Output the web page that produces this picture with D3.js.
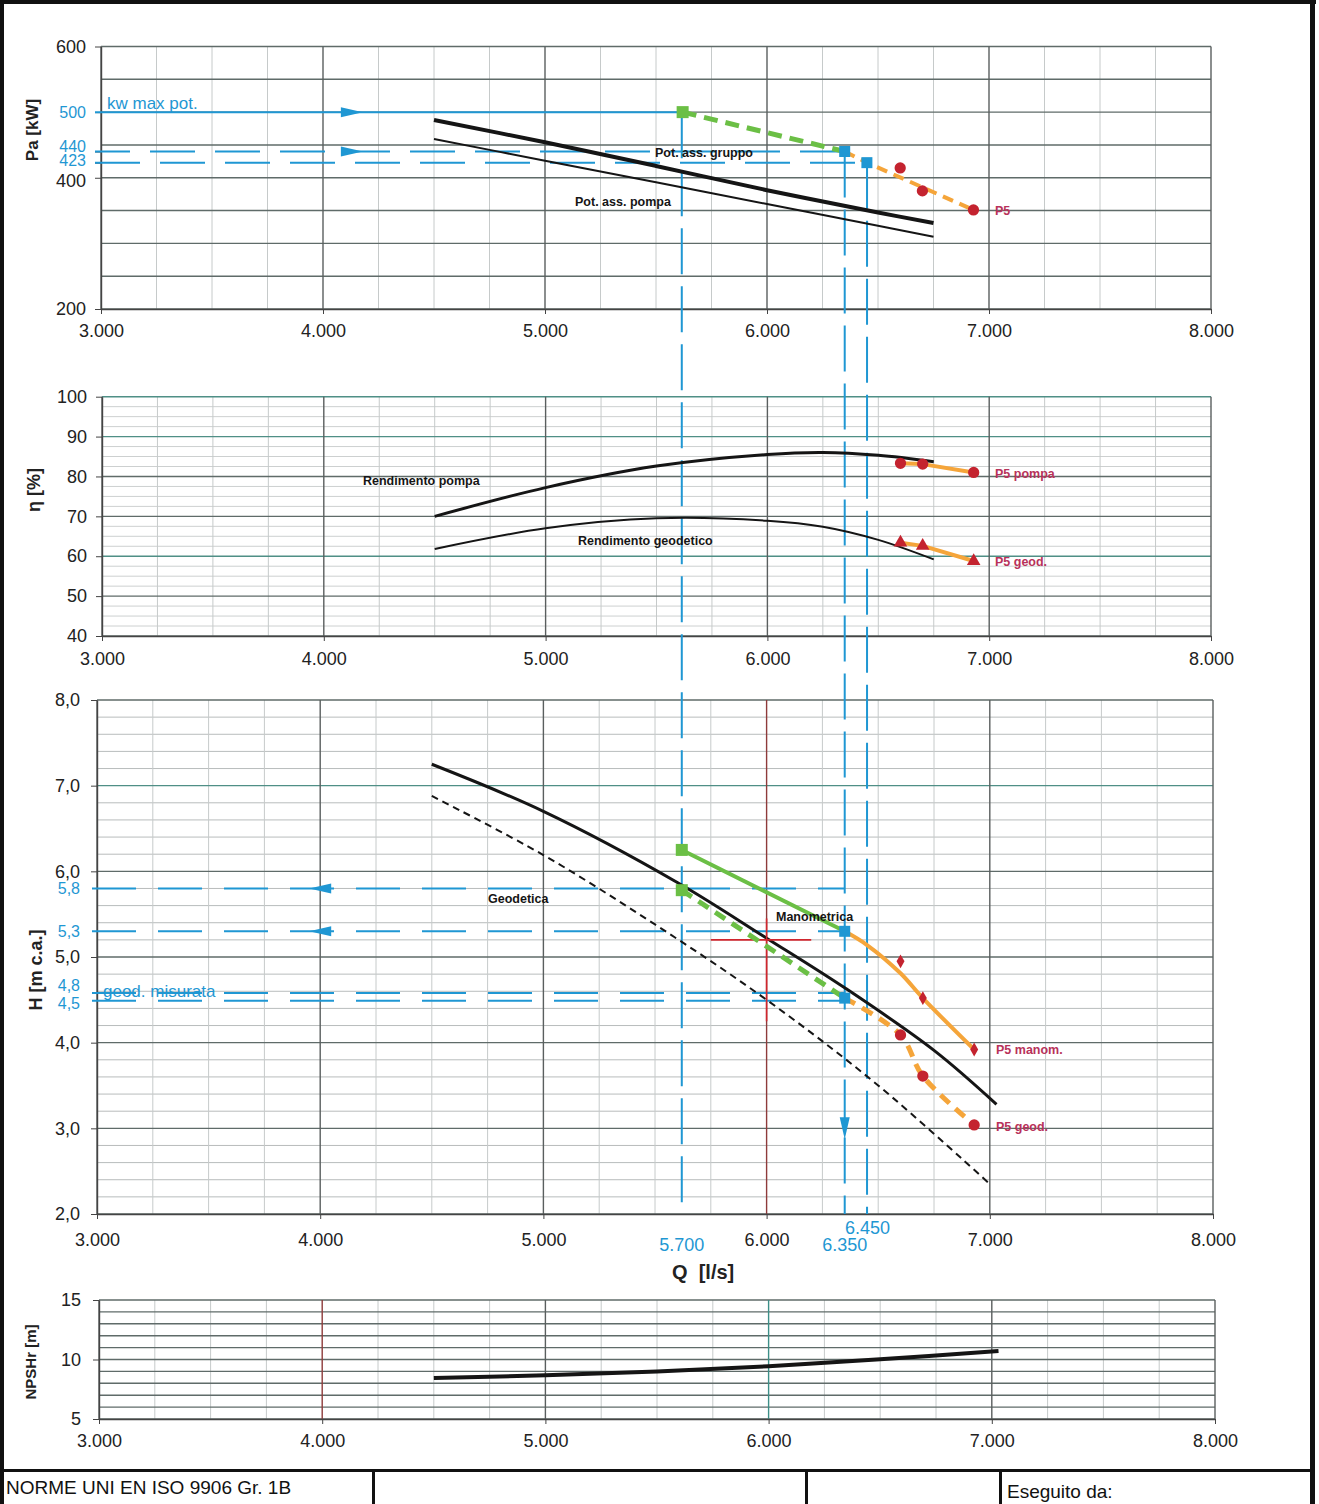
<!DOCTYPE html>
<html><head><meta charset="utf-8">
<script src="https://cdn.jsdelivr.net/npm/d3@7"></script>
<style>
body{margin:0;background:#fff}
text{font-family:Arial,"Liberation Sans",sans-serif}
</style>
</head><body>
<svg id="c" width="1319" height="1504"></svg>
<script>
// ---------- DATA ----------
const qTicks=[3000,4000,5000,6000,7000,8000];
const qTickLabels=["3.000","4.000","5.000","6.000","7.000","8.000"];
const opQ=[5620,6350,6450];
const opQLabels=["5.700","6.350","6.450"];
// Panel 1 – absorbed power
const paTicks=[600,400,200];
const paRefTicks=[500,440,423];
const potQ=[4500,5000,5500,6000,6500,6750];
const potGruppo=[488,454,418,381,347,331];
const potPompa=[459,426,393,360,327,310];
const opPa=[500,440,423];
const p5Q=[6600,6700,6930];
const p5Pa=[415,380,351];
// Panel 2 – efficiency
const etaTicks=[100,90,80,70,60,50,40];
const rendQ=[4500,5000,5500,6000,6250,6500,6750];
const rendPompa=[70,77.2,82.6,85.5,86,85.3,83.7];
const rendGeod=[61.8,67,69.5,68.9,67.4,64.1,59.2];
const p5EtaPompa=[83.3,83.1,81];
const p5EtaGeod=[63.4,62.6,58.8];
// Panel 3 – head
const hTicks=[8,7,6,5,4,3,2];
const hTickLabels=["8,0","7,0","6,0","5,0","4,0","3,0","2,0"];
const hRefValues=[5.8,5.3,4.58,4.49];
const hRefLabelPos=[5.8,5.3,4.67,4.46];
const hRefLabels=["5,8","5,3","4,8","4,5"];
const manQ=[4500,5000,5600,6000,6350,6750,7030];
const manH=[7.25,6.70,5.87,5.22,4.64,3.91,3.28];
const geoQ=[4500,5000,5500,6000,6500,7000];
const geoH=[6.88,6.19,5.38,4.50,3.50,2.35];
const opHMan=[6.25,5.30];
const opHGeod=[5.78,4.52];
const orangeManQ=[6350,6450,6600,6700,6930];
const orangeManH=[5.30,5.14,4.81,4.52,3.92];
const p5HMan=[4.95,4.52,3.92];
const p5HGeod=[4.09,3.61,3.04];
const crossQ=[5750,6000,6200];
const crossH=[4.25,5.2,5.45];
// Panel 4 – NPSHr
const npshTicks=[15,10,5];
const npshQ=[4500,5000,5500,6000,6500,7030];
const npsh=[8.45,8.68,9.0,9.44,10.02,10.72];

// ---------- STYLE ----------
const BLUE="#1f97d3", GREEN="#6bbf45", ORANGE="#f5a53a", RED="#c4232f", LBL="#b8325a", INK="#151515";
const svg=d3.select("#c");

function makePanel(cfg){
  const x=d3.scaleLinear().domain([3000,8000]).range(cfg.xr);
  const y=d3.scaleLinear().domain(cfg.yd).range(cfg.yr);
  const g=svg.append("g");
  const vq=d3.range(0,21).map(i=>3000+i*250);
  const n=Math.round((cfg.yd[1]-cfg.yd[0])/cfg.minor);
  const hv=d3.range(0,n+1).map(i=>cfg.yd[0]+i*cfg.minor);
  const isMaj=v=>Math.abs(v/cfg.major-Math.round(v/cfg.major))<1e-6;
  g.selectAll(".hmin").data(hv.filter(v=>!isMaj(v))).join("line")
    .attr("x1",x(3000)).attr("x2",x(8000)).attr("y1",d=>y(d)).attr("y2",d=>y(d))
    .attr("stroke",cfg.hMinorColor).attr("stroke-width",1);
  g.selectAll(".vmin").data(vq.filter(q=>q%1000!==0)).join("line")
    .attr("x1",d=>x(d)).attr("x2",d=>x(d)).attr("y1",y.range()[0]).attr("y2",y.range()[1])
    .attr("stroke","#c6caca").attr("stroke-width",1);
  g.selectAll(".hmaj").data(hv.filter(isMaj)).join("line")
    .attr("x1",x(3000)).attr("x2",x(8000)).attr("y1",d=>y(d)).attr("y2",d=>y(d))
    .attr("stroke",d=>(cfg.hColors&&cfg.hColors[d])||"#5f6b69").attr("stroke-width",1.4);
  g.selectAll(".vmaj").data(vq.filter(q=>q%1000===0)).join("line")
    .attr("x1",d=>x(d)).attr("x2",d=>x(d)).attr("y1",y.range()[0]).attr("y2",y.range()[1])
    .attr("stroke",d=>(cfg.vColors&&cfg.vColors[d])||"#5a5f5f").attr("stroke-width",1.4);
  return {x,y,g};
}
function styleAxis(sel,color,size){
  sel.selectAll("text").attr("font-size",size||18).attr("fill",color||"#222");
  sel.selectAll("line").attr("stroke","#444");
  sel.select(".domain").attr("stroke","#444").attr("stroke-width",1.4);
}
function yAxis(p,vals,fmt,color,pad,size){
  const a=p.g.append("g").attr("transform",`translate(${p.x.range()[0]},0)`)
    .call(d3.axisLeft(p.y).tickValues(vals).tickFormat(fmt).tickSize(6).tickSizeOuter(0).tickPadding(pad||9));
  styleAxis(a,color,size);
  if(color) a.select(".domain").remove();
  return a;
}
function xAxis(p,pad){
  const a=p.g.append("g").attr("transform",`translate(0,${p.y.range()[0]})`)
    .call(d3.axisBottom(p.x).tickValues(qTicks).tickFormat((d,i)=>qTickLabels[i]).tickSize(5).tickSizeOuter(0).tickPadding(pad));
  styleAxis(a);
  return a;
}
function yTitle(txt,x,y,size){
  svg.append("text").attr("transform",`translate(${x},${y}) rotate(-90)`).attr("text-anchor","middle")
    .attr("font-weight","bold").attr("font-size",size||17).attr("fill","#222").text(txt);
}
function lbl(txt,x,y,color,size,weight){
  return svg.append("text").attr("x",x).attr("y",y).attr("fill",color||INK).attr("font-size",size||12.5)
    .attr("font-weight",weight||"bold").text(txt);
}
function line(p,qs,vs,opt){
  const gen=d3.line().x(d=>p.x(d[0])).y(d=>p.y(d[1])).curve(opt.curve||d3.curveCatmullRom.alpha(0.5));
  return svg.append("path").attr("d",gen(qs.map((q,i)=>[q,vs[i]]))).attr("fill","none")
    .attr("stroke",opt.color).attr("stroke-width",opt.w).attr("stroke-dasharray",opt.dash||null)
    .attr("stroke-linecap",opt.cap||"butt").attr("stroke-linejoin","round");
}
function squares(p,qs,vs,color,s){
  svg.append("g").selectAll("rect").data(qs.map((q,i)=>[q,vs[i]])).join("rect")
    .attr("x",d=>p.x(d[0])-s/2).attr("y",d=>p.y(d[1])-s/2).attr("width",s).attr("height",s).attr("fill",color);
}
function symbols(p,qs,vs,type,size,color){
  svg.append("g").selectAll("path").data(qs.map((q,i)=>[q,vs[i]])).join("path")
    .attr("transform",d=>`translate(${p.x(d[0])},${p.y(d[1])})`)
    .attr("d",d3.symbol().type(type).size(size)).attr("fill",color);
}
function arrow(x,y,dir,color){
  const paths={right:"M-11,-5 L11,0 L-11,5Z",left:"M11,-5 L-11,0 L11,5Z",down:"M-5,-11 L0,11 L5,-11Z"};
  svg.append("path").attr("transform",`translate(${x},${y})`).attr("d",paths[dir]).attr("fill",color);
}

// ---------- PANELS ----------
const P1=makePanel({xr:[101,1211],yd:[200,600],yr:[309,46.5],minor:50,major:50,hMinorColor:"#6a7472",hColors:{}});
const P2=makePanel({xr:[102,1211],yd:[40,100],yr:[636,396.7],minor:2.5,major:10,hMinorColor:"#cdd0d0",
  hColors:{90:"#4f8f86",60:"#4f8f86",100:"#4f8f86"}});
const P3=makePanel({xr:[97,1213],yd:[2,8],yr:[1214,700],minor:0.2,major:1,hMinorColor:"#b8bcbc",
  hColors:{7:"#4f8f86"},vColors:{6000:"#8e3b3b"}});
const P4=makePanel({xr:[99,1215],yd:[5,15],yr:[1419,1300],minor:1,major:1,hMinorColor:"#555",
  hColors:{}, vColors:{4000:"#8e3b3b",6000:"#3d8f88"}});

// axes
const blackTop=yAxis(P1,paTicks,d=>d);
blackTop.selectAll(".tick text").attr("dy",d=>d===400?"0.5em":"0.32em");
const blueTop=yAxis(P1,paRefTicks,d=>d,BLUE,9,16);
blueTop.selectAll(".tick text").attr("dy",(d)=>d===440?"0.0em":(d===423?"0.2em":"0.32em"));
xAxis(P1,10);
yTitle("Pa [kW]",38,130,17);

yAxis(P2,etaTicks,d=>d);
xAxis(P2,11);
yTitle("η [%]",40,490,18);

yAxis(P3,hTicks,(d,i)=>hTickLabels[i],null,11);
svg.append("g").selectAll("text").data(hRefLabelPos).join("text")
  .attr("x",P3.x.range()[0]-17).attr("y",d=>P3.y(d)).attr("dy","0.35em").attr("text-anchor","end")
  .attr("font-size",16).attr("fill",BLUE).text((d,i)=>hRefLabels[i]);
xAxis(P3,14);
yTitle("H [m c.a.]",42,970,18);
svg.append("g").selectAll("text").data(opQ).join("text")
  .attr("x",d=>P3.x(d)).attr("y",(d,i)=>i===2?1234:1251).attr("text-anchor",(d,i)=>i===2?"start":"middle")
  .attr("dx",(d,i)=>i===2?-22:0)
  .attr("font-size",18).attr("fill",BLUE).text((d,i)=>opQLabels[i]);
svg.append("text").attr("x",672).attr("y",1279).attr("font-size",20).attr("font-weight","bold").attr("fill","#222")
  .attr("xml:space","preserve").text("Q  [l/s]");

yAxis(P4,npshTicks,d=>d,null,12);
xAxis(P4,10);
yTitle("NPSHr [m]",36,1362,15);

// ---------- BLUE REFERENCE LINES ----------
const x0=P1.x.range()[0]-6;
svg.append("line").attr("x1",x0).attr("x2",P1.x(opQ[0])).attr("y1",P1.y(opPa[0])).attr("y2",P1.y(opPa[0]))
  .attr("stroke",BLUE).attr("stroke-width",2);
[1,2].forEach(i=>{
  svg.append("line").attr("x1",x0).attr("x2",P1.x(opQ[i])).attr("y1",P1.y(opPa[i])).attr("y2",P1.y(opPa[i]))
    .attr("stroke",BLUE).attr("stroke-width",2).attr("stroke-dasharray","45,20").attr("stroke-dashoffset",i===1?10:0);
});
arrow(P1.x(4130),P1.y(500),"right",BLUE);
arrow(P1.x(4130),P1.y(440),"right",BLUE);
lbl("kw max pot.",107,109,BLUE,17,"normal");

const x3=P3.x.range()[0]-5;
hRefValues.forEach((v,i)=>{
  svg.append("line").attr("x1",x3).attr("x2",P3.x(opQ[1])).attr("y1",P3.y(v)).attr("y2",P3.y(v))
    .attr("stroke",BLUE).attr("stroke-width",2).attr("stroke-dasharray","44,22");
});
arrow(P3.x(4000),P3.y(5.8),"left",BLUE);
arrow(P3.x(4000),P3.y(5.3),"left",BLUE);
lbl("geod. misurata",103,997,BLUE,17,"normal");

const vStart=[P1.y(opPa[0]),P1.y(opPa[1]),P1.y(opPa[2])];
opQ.forEach((q,i)=>{
  svg.append("line").attr("x1",P3.x(q)).attr("x2",P3.x(q)).attr("y1",vStart[i]).attr("y2",P3.y(2))
    .attr("stroke",BLUE).attr("stroke-width",2).attr("stroke-dasharray","46,12");
});
arrow(P3.x(opQ[1]),P3.y(3.0),"down",BLUE);

// ---------- PANEL 1 CURVES ----------
line(P1,potQ,potGruppo,{color:INK,w:4});
line(P1,potQ,potPompa,{color:INK,w:2});
line(P1,[opQ[0],opQ[1]],[opPa[0],opPa[1]],{color:GREEN,w:5,dash:"14,8",curve:d3.curveLinear});
line(P1,[opQ[1],opQ[2],p5Q[2]],[opPa[1],opPa[2],p5Pa[2]],{color:ORANGE,w:4,dash:"11,7",curve:d3.curveLinear});
squares(P1,[opQ[0]],[opPa[0]],GREEN,12);
squares(P1,[opQ[1],opQ[2]],[opPa[1],opPa[2]],BLUE,11);
symbols(P1,p5Q,p5Pa,d3.symbolCircle,100,RED);
lbl("Pot. ass. gruppo",655,157);
lbl("Pot. ass. pompa",575,206);
lbl("P5",995,215,LBL,12.5);

// ---------- PANEL 2 CURVES ----------
line(P2,rendQ,rendPompa,{color:INK,w:3});
line(P2,rendQ,rendGeod,{color:INK,w:2});
line(P2,p5Q,p5EtaPompa,{color:ORANGE,w:4,curve:d3.curveLinear});
line(P2,p5Q,p5EtaGeod,{color:ORANGE,w:4,curve:d3.curveLinear});
symbols(P2,p5Q,p5EtaPompa,d3.symbolCircle,100,RED);
symbols(P2,p5Q,p5EtaGeod,d3.symbolTriangle,80,RED);
lbl("Rendimento pompa",363,485);
lbl("Rendimento geodetico",578,545);
lbl("P5 pompa",995,478,LBL);
lbl("P5 geod.",995,566,LBL);

// ---------- PANEL 3 CURVES ----------
line(P3,geoQ,geoH,{color:INK,w:2,dash:"7,5"});
line(P3,manQ,manH,{color:INK,w:3});
svg.append("line").attr("x1",P3.x(crossQ[0])).attr("x2",P3.x(crossQ[2])).attr("y1",P3.y(crossH[1])).attr("y2",P3.y(crossH[1]))
  .attr("stroke","#d0262e").attr("stroke-width",1.6);
svg.append("line").attr("x1",P3.x(crossQ[1])).attr("x2",P3.x(crossQ[1])).attr("y1",P3.y(crossH[0])).attr("y2",P3.y(crossH[2]))
  .attr("stroke","#d0262e").attr("stroke-width",1.6);
line(P3,[opQ[0],opQ[1]],opHMan,{color:GREEN,w:4,curve:d3.curveLinear});
line(P3,[opQ[0],opQ[1]],opHGeod,{color:GREEN,w:5,dash:"12,8",curve:d3.curveLinear});
line(P3,orangeManQ,orangeManH,{color:ORANGE,w:4});
line(P3,[opQ[1]].concat(p5Q),[opHGeod[1]].concat(p5HGeod),{color:ORANGE,w:5,dash:"12,8"});
squares(P3,[opQ[0],opQ[0]],[opHMan[0],opHGeod[0]],GREEN,12);
squares(P3,[opQ[1],opQ[1]],[opHMan[1],opHGeod[1]],BLUE,11);
symbols(P3,p5Q,p5HMan,d3.symbolDiamond,55,RED);
symbols(P3,p5Q,p5HGeod,d3.symbolCircle,100,RED);
lbl("Geodetica",488,903);
lbl("Manometrica",776,921);
lbl("P5 manom.",996,1054,LBL);
lbl("P5 geod.",996,1131,LBL);

// ---------- PANEL 4 CURVE ----------
line(P4,npshQ,npsh,{color:INK,w:4});

// ---------- PAGE FRAME & FOOTER ----------
svg.append("rect").attr("x",0).attr("y",0).attr("width",4).attr("height",1504).attr("fill","#111");
svg.append("rect").attr("x",0).attr("y",0).attr("width",1316).attr("height",4).attr("fill","#111");
svg.append("rect").attr("x",1310).attr("y",0).attr("width",5).attr("height",1504).attr("fill","#111");
svg.append("rect").attr("x",0).attr("y",1469).attr("width",1315).attr("height",3).attr("fill","#111");
[372,805,999].forEach(x=>svg.append("rect").attr("x",x).attr("y",1469).attr("width",3).attr("height",35).attr("fill","#111"));
lbl("NORME UNI EN ISO 9906 Gr. 1B",6,1494,"#111",19,"normal");
lbl("Eseguito da:",1007,1498,"#111",19,"normal");
</script>
</body></html>
